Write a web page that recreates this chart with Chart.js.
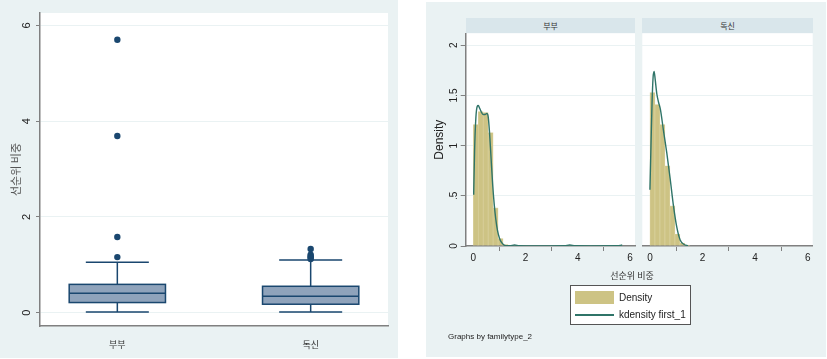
<!DOCTYPE html>
<html>
<head>
<meta charset="utf-8">
<script src="https://cdn.jsdelivr.net/npm/chart.js@4.4.1/dist/chart.umd.min.js"></script>
<style>
  body { margin: 0; background: #fff; width: 827px; height: 359px; position: relative; overflow: hidden;
         font-family: 'Liberation Sans', Arial, 'Noto Sans CJK KR', sans-serif; color: #222; }
  .panel { position: absolute; background: #EAF2F3; }
  canvas { position: absolute; }
  .strip { position: absolute; top: 18px; height: 15px; background: #D9E6EB; font-size: 8px; line-height: 15px;
           text-align: center; color: #333; font-family: 'Noto Sans CJK KR', sans-serif; }
  .label { position: absolute; white-space: nowrap; }
  #legend { position: absolute; left: 570px; top: 285px; width: 121px; height: 40px; background: #fff;
            border: 1px solid #555; box-sizing: border-box; }
</style>
</head>
<body>
<div class="panel" style="left:0;top:0;width:398px;height:358px"></div>
<div class="panel" style="left:426px;top:2px;width:400px;height:355px"></div>

<canvas id="boxChart" width="398" height="358" style="left:0;top:0"></canvas>
<canvas id="facet1" width="214" height="272" style="left:426px;top:0"></canvas>
<canvas id="facet2" width="186" height="272" style="left:640px;top:0"></canvas>

<div id="strip1" class="strip" style="left:466px;width:169px"></div>
<div id="strip2" class="strip" style="left:642px;width:171px"></div>
<div id="xTitle" class="label" style="left:591px;top:269px;width:82px;text-align:center;font-size:9px;color:#333;font-family:'Noto Sans CJK KR',sans-serif"></div>
<div id="legend">
  <div style="position:absolute;left:4px;top:5px;width:39px;height:13px;background:#CDC384"></div>
  <div class="label" style="left:48px;top:5px;font-size:10px;line-height:13px">Density</div>
  <div style="position:absolute;left:4px;top:28px;width:39px;height:1.5px;background:#2F7468"></div>
  <div class="label" style="left:48px;top:22px;font-size:10px;line-height:13px">kdensity first_1</div>
</div>
<div class="label" style="left:448px;top:332px;font-size:8px">Graphs by familytype_2</div>

<script>
// ========== data

// box plot (left)
const groups = ['부부', '독신'];
const boxQ1 = [0.21, 0.175];
const boxMedian = [0.405, 0.34];
const boxQ3 = [0.59, 0.55];
const whiskerLow = [0.015, 0.01];
const whiskerHigh = [1.05, 1.10];
const outliersCouple = [5.70, 3.69, 1.58, 1.16];
const outliersSingle = [1.33, 1.21, 1.18, 1.15, 1.12];
const boxYTicks = [0, 2, 4, 6];

// histograms (right), 30 bins from 0
const binWidth = 0.19;
const histCouple = [1.21, 1.34, 1.33, 1.13, 0.38, 0.075, 0.015, 0, 0.005, 0,
                    0, 0, 0, 0, 0, 0, 0, 0, 0, 0.005,
                    0, 0, 0, 0, 0, 0, 0, 0, 0, 0.005];
const histSingle = [1.53, 1.41, 1.21, 0.80, 0.40, 0.12, 0.03, 0.01, 0, 0,
                    0, 0, 0, 0, 0, 0, 0, 0, 0, 0,
                    0, 0, 0, 0, 0, 0, 0, 0, 0, 0];

// kernel density lines
const kdXCouple = [0.015, 0.05, 0.1, 0.15, 0.19, 0.25, 0.32, 0.38, 0.45, 0.52, 0.57, 0.62, 0.68, 0.74, 0.8, 0.86,
                   0.93, 1.0, 1.08, 1.16, 1.25, 1.4, 1.58, 1.75, 2.0, 3.0, 3.5, 3.69, 3.9, 4.5, 5.5, 5.7];
const kdYCouple = [0.51, 0.95, 1.28, 1.39, 1.40, 1.37, 1.33, 1.31, 1.31, 1.32, 1.29, 1.14, 0.88, 0.62, 0.42, 0.27,
                   0.15, 0.08, 0.035, 0.013, 0.004, 0.003, 0.010, 0.002, 0.001, 0.001, 0.002, 0.010, 0.002, 0.001, 0.002, 0.010];
const kdXSingle = [0.0, 0.04, 0.08, 0.12, 0.16, 0.2, 0.26, 0.33, 0.4, 0.51, 0.64, 0.77, 0.89, 1.02, 1.15, 1.3, 1.45];
const kdYSingle = [0.56, 1.0, 1.42, 1.68, 1.74, 1.66, 1.52, 1.43, 1.36, 1.16, 0.93, 0.67, 0.41, 0.19, 0.06, 0.015, 0.003];

const densityTicks = [0, 0.5, 1, 1.5, 2];
const densityTickLabels = ['0', '.5', '1', '1.5', '2'];
const xTicks = [0, 2, 4, 6];

const xTitle = '선순위 비중';


// ========== styles
const navy = '#1A476F';
const boxFill = '#8FA3BB';
const axisGray = '#808080';
const gridColor = '#EAF2F3';
const khaki = '#CDC384';
const teal = '#2F7468';
const latin = "'Liberation Sans', Arial, sans-serif";
const kr = "'Noto Sans CJK KR', sans-serif";

document.getElementById('strip1').textContent = groups[0];
document.getElementById('strip2').textContent = groups[1];
document.getElementById('xTitle').textContent = xTitle;


// ========== plugins

// white plot region on top of the panel colour
const plotBg = {
  id: 'plotBg',
  beforeDraw(chart) {
    const {ctx, chartArea: a} = chart;
    ctx.save();
    ctx.fillStyle = '#fff';
    ctx.fillRect(a.left, a.top, a.right - a.left, a.bottom - a.top);
    ctx.restore();
  }
};

// boxes, medians and whiskers from the quartile arrays
const boxPlot = {
  id: 'boxPlot',
  beforeDatasetsDraw(chart) {
    const {ctx, scales: {x, y}} = chart;
    ctx.save();
    ctx.strokeStyle = navy;
    ctx.lineWidth = 1.5;
    groups.forEach((g, i) => {
      const cx = x.getPixelForValue(i);
      const half = x.getPixelForValue(i + 0.249) - cx;
      const cap = x.getPixelForValue(i + 0.163) - cx;
      const yq1 = y.getPixelForValue(boxQ1[i]);
      const yq3 = y.getPixelForValue(boxQ3[i]);
      const ymed = y.getPixelForValue(boxMedian[i]);
      const ylo = y.getPixelForValue(whiskerLow[i]);
      const yhi = y.getPixelForValue(whiskerHigh[i]);

      ctx.beginPath();
      ctx.moveTo(cx, yq3); ctx.lineTo(cx, yhi);
      ctx.moveTo(cx, yq1); ctx.lineTo(cx, ylo);
      ctx.moveTo(cx - cap, yhi); ctx.lineTo(cx + cap, yhi);
      ctx.moveTo(cx - cap, ylo); ctx.lineTo(cx + cap, ylo);
      ctx.stroke();

      ctx.fillStyle = boxFill;
      ctx.fillRect(cx - half, yq3, 2 * half, yq1 - yq3);
      ctx.strokeRect(cx - half, yq3, 2 * half, yq1 - yq3);

      ctx.beginPath();
      ctx.moveTo(cx - half, ymed); ctx.lineTo(cx + half, ymed);
      ctx.stroke();
    });
    ctx.restore();
  }
};


// ========== box plot

let outlierPoints = [];
outliersCouple.forEach(v => outlierPoints.push({x: 0, y: v}));
outliersSingle.forEach(v => outlierPoints.push({x: 1, y: v}));

new Chart(document.getElementById('boxChart'), {
  type: 'scatter',
  data: {
    datasets: [{
      data: outlierPoints,
      pointRadius: 3.2,
      backgroundColor: navy,
      borderWidth: 0
    }]
  },
  options: {
    responsive: false,
    animation: false,
    devicePixelRatio: 1,
    layout: { padding: { left: 0, right: 10, top: 13, bottom: 0 } },
    plugins: { legend: { display: false }, tooltip: { enabled: false } },
    scales: {
      x: {
        type: 'linear', min: -0.4, max: 1.4,
        afterBuildTicks: s => { s.ticks = groups.map((g, i) => ({value: i})); },
        afterFit: s => { s.height = 32; },
        grid: { display: false },
        border: { display: true, color: axisGray, width: 1.5 },
        ticks: { callback: v => groups[v], font: { size: 9, family: kr }, color: '#333',
                 padding: 5, maxRotation: 0, autoSkip: false }
      },
      y: {
        min: -0.28, max: 6.26,
        afterBuildTicks: s => { s.ticks = boxYTicks.map(v => ({value: v})); },
        afterFit: s => { s.width = 40; },
        grid: { color: gridColor, tickColor: axisGray, tickLength: 4, lineWidth: 1 },
        border: { color: axisGray, width: 1.5 },
        ticks: { minRotation: 90, maxRotation: 90, crossAlign: 'center', padding: 6,
                 font: { size: 11, family: latin }, color: '#222' },
        title: { display: true, text: xTitle, font: { size: 11, family: kr }, color: '#555',
                 padding: { top: 9.5, bottom: 0 } }
      }
    }
  },
  plugins: [plotBg, boxPlot]
});


// ========== histogram facets

function makeFacet(id, hist, kdX, kdY, first) {
  const bars = hist.map((h, i) => ({x: (i + 0.5) * binWidth, y: h}));
  const line = kdX.map((v, i) => ({x: v, y: kdY[i]}));

  return new Chart(document.getElementById(id), {
    type: 'bar',
    data: {
      datasets: [
        { type: 'line', data: line, borderColor: teal, borderWidth: 1.4, pointRadius: 0,
          cubicInterpolationMode: 'monotone', order: 0 },
        { data: bars, backgroundColor: khaki, borderColor: '#DED6A6', borderWidth: 0.6,
          barPercentage: 1, categoryPercentage: 1, order: 1 }
      ]
    },
    options: {
      responsive: false,
      animation: false,
      devicePixelRatio: 1,
      layout: { padding: { left: 0, right: first ? 5 : 13.3, top: 33.3, bottom: 0 } },
      plugins: { legend: { display: false }, tooltip: { enabled: false } },
      scales: {
        x: {
          type: 'linear', min: -0.29, max: 6.19, offset: false,
          afterBuildTicks: s => { s.ticks = xTicks.map(v => ({value: v})); },
          afterFit: s => { s.height = 26; },
          grid: { drawOnChartArea: false, tickColor: axisGray, tickLength: 5 },
          border: { color: axisGray, width: 1.5 },
          ticks: { font: { size: 10, family: latin }, color: '#222', padding: 1, maxRotation: 0 }
        },
        y: {
          min: 0, max: 2.12,
          afterBuildTicks: s => { s.ticks = densityTicks.map(v => ({value: v})); },
          afterFit: s => { s.width = first ? 39.7 : 2.3; },
          grid: { color: gridColor, tickColor: axisGray, tickLength: 5, drawTicks: first },
          border: { color: axisGray, width: 1.5, display: first },
          ticks: { display: first, minRotation: 90, maxRotation: 90, crossAlign: 'center', padding: -1,
                   callback: (v, i) => densityTickLabels[i],
                   font: { size: 10, family: latin }, color: '#222' },
          title: { display: first, text: 'Density', font: { size: 12, family: latin }, color: '#222',
                   padding: { top: 6.8, bottom: 0 } }
        }
      }
    },
    plugins: [plotBg]
  });
}

makeFacet('facet1', histCouple, kdXCouple, kdYCouple, true);
makeFacet('facet2', histSingle, kdXSingle, kdYSingle, false);
</script>
</body>
</html>
